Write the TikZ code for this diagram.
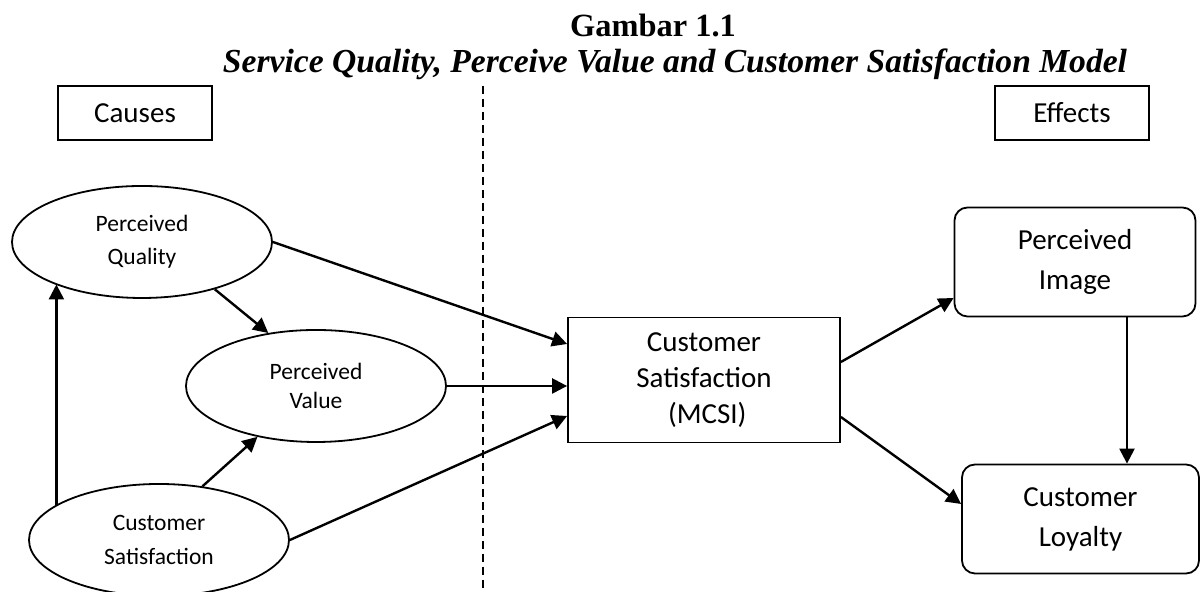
\documentclass[tikz,border=0pt]{standalone}
\usepackage{fontspec}
\setmainfont{Liberation Serif}
\newfontfamily\calibri{Carlito}
\usetikzlibrary{positioning, shapes, arrows.meta}

\begin{document}
\begin{tikzpicture}[x=0.5pt, y=0.5pt,
        ellip/.style={draw, ellipse, line width=0.9pt, minimum width=130pt, minimum height=56pt, inner sep=0pt, align=center, font=\calibri\fontsize{11.75}{16.5}\selectfont},
        plainbox/.style={draw, rectangle, line width=0.9pt, inner sep=0pt, align=center, font=\calibri\fontsize{14.5}{18}\selectfont},
        roundbox/.style={draw, rectangle, rounded corners=6.5pt, line width=0.9pt, minimum width=120.5pt, minimum height=54.5pt, inner sep=0pt, align=center, font=\calibri\fontsize{14.5}{20}\selectfont},
        arr/.style={-{Triangle[length=7.5pt, width=7.5pt]}, line width=1.2pt}]
            \useasboundingbox (0,0) rectangle (1200,592);

            % Heading
            \node[anchor=base, font=\bfseries\fontsize{16.2}{18}\selectfont] (title) at (653,555) {Gambar 1.1};
            \node[anchor=base, font=\bfseries\itshape\fontsize{16.8}{18}\selectfont] (subtitle) at (675,519) {Service Quality, Perceive Value and Customer Satisfaction Model};

            \node[plainbox, minimum width=77pt, minimum height=27pt] (causes) at (135,479) {Causes};
            \node[plainbox, minimum width=77pt, minimum height=27pt] (effects) at (1072,479) {Effects};

            % Divider
            \coordinate (divtop) at (483,506);
            \coordinate (divbot) at (483,0);
            \draw[line width=0.8pt, dash pattern=on 4pt off 2.5pt] (divtop) -- (divbot);

            \node[ellip] (pq) at (142,350) {Perceived\\Quality};
            \node[ellip, font=\calibri\fontsize{11.75}{14.5}\selectfont] (pv) at (316,206) {Perceived\\Value};
            \node[ellip, font=\calibri\fontsize{11.75}{17}\selectfont] (cs) at (159,52) {Customer\\Satisfaction};

            \node[plainbox, minimum width=136pt, minimum height=62.5pt] (mcsi) at (704,212) {Customer\\Satisfaction\\~(MCSI)};

            \node[roundbox] (pi) at (1075,330) {Perceived\\Image};
            \node[roundbox, minimum width=118.5pt] (cl) at (1080.5,73) {Customer\\Loyalty};

            % Draw edges
            \draw[arr] (pq.east) -- ([yshift=18pt]mcsi.west);
            \draw[arr] (pq.-33) -- (pv.132);
            \draw[arr] (pv.east) -- (pv.east -| mcsi.west);
            \draw[arr] (cs.51) -- (pv.221);
            \draw[arr] (cs.east) -- ([yshift=-18pt]mcsi.west);
            \draw[arr] (cs.161) -- (pq.206 -| cs.161);
            \draw[arr] ([yshift=9pt]mcsi.east) -- ([yshift=-18pt]pi.west);
            \draw[arr] ([yshift=-18.5pt]mcsi.east) -- ([yshift=7.5pt]cl.west);
            \draw[arr] ([xshift=26pt]pi.south) -- ([xshift=26pt]pi.south |- cl.north);
        \end{tikzpicture}
\end{document}
